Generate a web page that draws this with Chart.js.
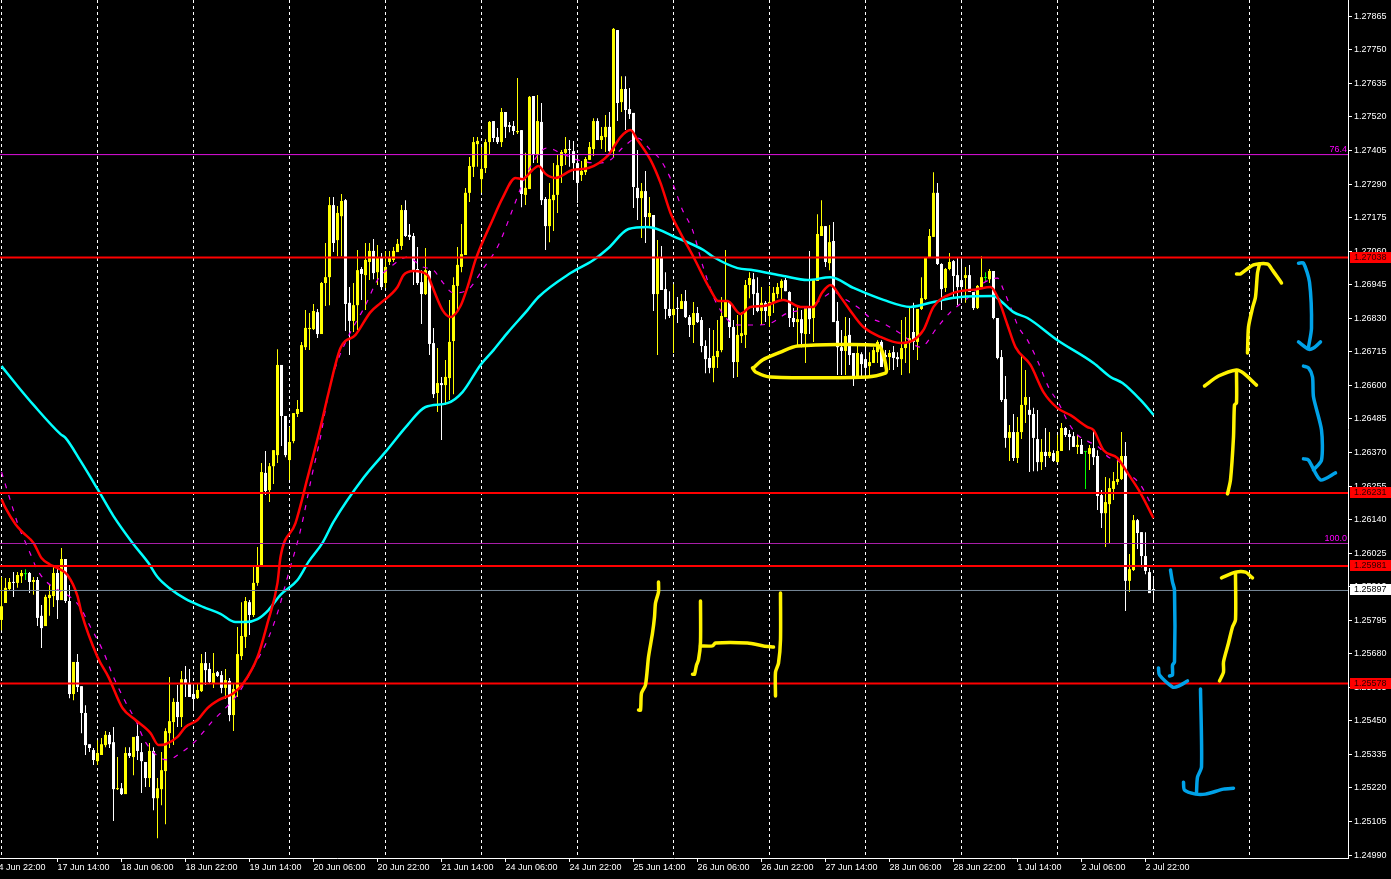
<!DOCTYPE html>
<html>
<head>
<meta charset="UTF-8">
<title>GBPUSD H1</title>
<script src="https://cdn.jsdelivr.net/npm/chart.js"></script>
<style>
    html, body { margin: 0; padding: 0; background: #000; overflow: hidden; }
    canvas { display: block; }
</style>
</head>
<body>
<canvas id="priceChart" width="1391" height="879" style="width:1391px;height:879px"></canvas>
<script>
// H1 candles, one entry per bar
const opens = [
1.25796,1.25854,1.25902,1.25926,1.25923,1.25946,1.25953,1.25957,1.25926,1.25933,
1.25810,1.25775,1.25871,1.25878,1.25957,1.25864,1.26005,1.25861,1.25542,1.25652,
1.25569,1.25477,1.25370,1.25350,1.25312,1.25333,1.25367,1.25402,1.25377,1.25216,
1.25219,1.25199,1.25340,1.25326,1.25398,1.25343,1.25309,1.25254,1.25347,1.25185,
1.25216,1.25278,1.25408,1.25446,1.25515,1.25463,1.25593,1.25580,1.25542,1.25528,
1.25552,1.25648,1.25628,1.25580,1.25617,1.25607,1.25563,1.25587,1.25470,1.25559,
1.25672,1.25738,1.25857,1.25813,1.25923,1.25984,1.26300,1.26241,1.26323,1.26361,
1.26670,1.26495,1.26344,1.26409,1.26502,1.26509,1.26731,1.26793,1.26793,1.26851,
1.26776,1.26951,1.26971,1.27218,1.27098,1.27180,1.27235,1.26883,1.26821,1.26875,
1.26999,1.26978,1.27023,1.27061,1.26988,1.27040,1.26951,1.27023,1.27030,1.27057,
1.27078,1.27201,1.27116,1.27112,1.26999,1.26954,1.26913,1.26992,1.26745,1.26574,
1.26608,1.26601,1.26625,1.26752,1.26941,1.27006,1.27047,1.27260,1.27349,1.27427,
1.27307,1.27345,1.27434,1.27506,1.27451,1.27434,1.27537,1.27492,1.27489,1.27468,
1.27475,1.27253,1.27273,1.27592,1.27390,1.27503,1.27239,1.27146,1.27235,1.27253,
1.27352,1.27397,1.27410,1.27403,1.27362,1.27321,1.27331,1.27373,1.27410,1.27506,
1.27441,1.27451,1.27486,1.27403,1.27818,1.27571,1.27616,1.27547,1.27534,1.27277,
1.27242,1.27266,1.27177,1.27184,1.26913,1.27040,1.26930,1.26862,1.26841,1.26865,
1.26862,1.26889,1.26834,1.26807,1.26848,1.26824,1.26735,1.26694,1.26660,1.26697,
1.26721,1.26834,1.26886,1.26800,1.26680,1.26769,1.26773,1.26944,1.26964,1.26917,
1.26855,1.26883,1.26838,1.26886,1.26913,1.26934,1.26961,1.26920,1.26831,1.26817,
1.26827,1.26776,1.26872,1.26831,1.26958,1.27112,1.27146,1.27019,1.27095,1.26821,
1.26731,1.26718,1.26773,1.26711,1.26629,1.26707,1.26690,1.26666,1.26677,1.26714,
1.26749,1.26704,1.26697,1.26714,1.26697,1.26690,1.26728,1.26745,1.26783,1.26749,
1.26862,1.26896,1.27037,1.27109,1.27260,1.27016,1.26934,1.26999,1.27026,1.26978,
1.26961,1.26968,1.26978,1.26920,1.26865,1.26937,1.26968,1.26964,1.26992,1.26831,
1.26697,1.26553,1.26420,1.26440,1.26351,1.26440,1.26533,1.26516,1.26502,1.26416,
1.26337,1.26372,1.26358,1.26368,1.26337,1.26375,1.26454,1.26433,1.26426,1.26389,
1.26396,1.26372,1.26365,1.26385,1.26358,1.26224,1.26162,1.26193,1.26245,1.26269,
1.26279,1.26358,1.25930,1.25967,1.26138,1.26097,1.26015,1.25960,1.25902];
const highs = [
1.25943,1.25940,1.25940,1.25960,1.25960,1.25967,1.25970,1.25960,1.25943,1.25943,
1.25847,1.25882,1.25916,1.25984,1.25984,1.26043,1.26005,1.25916,1.25652,1.25679,
1.25569,1.25504,1.25370,1.25357,1.25384,1.25391,1.25415,1.25412,1.25429,1.25326,
1.25237,1.25360,1.25360,1.25395,1.25446,1.25374,1.25309,1.25374,1.25360,1.25254,
1.25343,1.25425,1.25600,1.25528,1.25573,1.25621,1.25638,1.25628,1.25580,1.25580,
1.25679,1.25686,1.25648,1.25683,1.25621,1.25621,1.25628,1.25597,1.25580,1.25772,
1.25857,1.25875,1.25864,1.25984,1.26046,1.26334,1.26375,1.26334,1.26378,1.26724,
1.26670,1.26495,1.26457,1.26505,1.26550,1.26749,1.26858,1.26848,1.26879,1.26862,
1.26954,1.27088,1.27246,1.27246,1.27215,1.27256,1.27239,1.26937,1.26951,1.27064,
1.27006,1.27088,1.27088,1.27102,1.27081,1.27054,1.27061,1.27061,1.27074,1.27102,
1.27218,1.27235,1.27153,1.27122,1.27074,1.26995,1.27071,1.26995,1.26797,1.26728,
1.26629,1.26687,1.26893,1.26971,1.27074,1.27153,1.27277,1.27383,1.27451,1.27451,
1.27417,1.27444,1.27506,1.27506,1.27482,1.27551,1.27537,1.27503,1.27506,1.27654,
1.27475,1.27397,1.27592,1.27592,1.27595,1.27568,1.27246,1.27294,1.27362,1.27390,
1.27407,1.27451,1.27441,1.27438,1.27390,1.27369,1.27383,1.27434,1.27516,1.27516,
1.27486,1.27527,1.27537,1.27825,1.27818,1.27660,1.27660,1.27619,1.27534,1.27407,
1.27294,1.27335,1.27246,1.27184,1.27098,1.27078,1.26988,1.26923,1.26947,1.26903,
1.26913,1.26927,1.26841,1.26886,1.26869,1.26834,1.26755,1.26797,1.26790,1.26824,
1.26903,1.27064,1.26889,1.26824,1.26841,1.26851,1.26961,1.26988,1.26985,1.26971,
1.26937,1.26889,1.26941,1.26937,1.26951,1.26964,1.26968,1.26923,1.26865,1.26875,
1.26858,1.26872,1.27061,1.26961,1.27187,1.27235,1.27146,1.27150,1.27160,1.26886,
1.26790,1.26834,1.26831,1.26711,1.26735,1.26714,1.26745,1.26714,1.26731,1.26755,
1.26755,1.26721,1.26721,1.26735,1.26714,1.26824,1.26834,1.26865,1.26883,1.26862,
1.26971,1.27040,1.27136,1.27331,1.27294,1.27019,1.27002,1.27054,1.27030,1.27040,
1.27030,1.27006,1.27013,1.26920,1.26944,1.27043,1.26988,1.26999,1.26992,1.26831,
1.26721,1.26632,1.26464,1.26502,1.26492,1.26704,1.26653,1.26560,1.26523,1.26516,
1.26416,1.26454,1.26440,1.26378,1.26430,1.26471,1.26457,1.26447,1.26440,1.26430,
1.26416,1.26372,1.26396,1.26447,1.26378,1.26241,1.26286,1.26282,1.26303,1.26354,
1.26440,1.26406,1.26022,1.26156,1.26142,1.26097,1.26097,1.25974,1.25940];
const lows = [
1.25761,1.25854,1.25899,1.25875,1.25906,1.25923,1.25933,1.25888,1.25882,1.25775,
1.25700,1.25775,1.25810,1.25840,1.25799,1.25864,1.25854,1.25528,1.25521,1.25549,
1.25408,1.25333,1.25343,1.25299,1.25299,1.25333,1.25360,1.25357,1.25107,1.25213,
1.25196,1.25199,1.25323,1.25264,1.25316,1.25203,1.25223,1.25223,1.25144,1.25048,
1.25161,1.25096,1.25357,1.25367,1.25429,1.25429,1.25532,1.25532,1.25494,1.25525,
1.25549,1.25573,1.25580,1.25563,1.25600,1.25545,1.25525,1.25449,1.25415,1.25532,
1.25659,1.25700,1.25744,1.25806,1.25913,1.25984,1.26224,1.26200,1.26262,1.26334,
1.26392,1.26354,1.26276,1.26402,1.26492,1.26509,1.26721,1.26721,1.26790,1.26762,
1.26776,1.26872,1.26875,1.27057,1.27043,1.27043,1.26786,1.26704,1.26783,1.26790,
1.26893,1.26858,1.26961,1.26964,1.26944,1.26927,1.26934,1.27013,1.27023,1.27057,
1.27064,1.27109,1.27098,1.26944,1.26944,1.26810,1.26910,1.26704,1.26557,1.26509,
1.26413,1.26533,1.26550,1.26570,1.26858,1.26988,1.27047,1.27229,1.27314,1.27349,
1.27260,1.27328,1.27393,1.27434,1.27427,1.27417,1.27448,1.27468,1.27458,1.27462,
1.27211,1.27218,1.27273,1.27362,1.27362,1.27218,1.27064,1.27091,1.27129,1.27191,
1.27294,1.27355,1.27349,1.27304,1.27225,1.27301,1.27321,1.27373,1.27386,1.27441,
1.27410,1.27400,1.27397,1.27383,1.27506,1.27537,1.27475,1.27513,1.27208,1.27167,
1.27105,1.27088,1.27143,1.26855,1.26704,1.26927,1.26827,1.26831,1.26711,1.26814,
1.26862,1.26831,1.26766,1.26745,1.26814,1.26714,1.26642,1.26642,1.26611,1.26660,
1.26714,1.26834,1.26762,1.26625,1.26629,1.26745,1.26728,1.26899,1.26841,1.26851,
1.26807,1.26817,1.26800,1.26848,1.26899,1.26893,1.26923,1.26800,1.26800,1.26738,
1.26731,1.26677,1.26776,1.26749,1.26958,1.27112,1.27006,1.26995,1.26817,1.26636,
1.26636,1.26636,1.26670,1.26598,1.26629,1.26629,1.26629,1.26636,1.26677,1.26677,
1.26663,1.26670,1.26653,1.26653,1.26663,1.26636,1.26677,1.26642,1.26721,1.26687,
1.26858,1.26893,1.27037,1.27109,1.27013,1.26858,1.26920,1.26995,1.26903,1.26875,
1.26883,1.26883,1.26920,1.26858,1.26862,1.26937,1.26954,1.26951,1.26827,1.26690,
1.26543,1.26386,1.26341,1.26341,1.26334,1.26416,1.26471,1.26303,1.26306,1.26306,
1.26310,1.26320,1.26351,1.26337,1.26337,1.26375,1.26423,1.26378,1.26389,1.26365,
1.26365,1.26245,1.26310,1.26327,1.26173,1.26111,1.26046,1.26060,1.26207,1.26259,
1.26276,1.25827,1.25892,1.25964,1.26039,1.25977,1.25953,1.25888,1.25864];
const closes = [
1.25843,1.25906,1.25926,1.25923,1.25950,1.25957,1.25953,1.25926,1.25933,1.25803,
1.25768,1.25875,1.25882,1.25957,1.25864,1.26005,1.25861,1.25542,1.25652,1.25566,
1.25477,1.25367,1.25357,1.25316,1.25340,1.25370,1.25402,1.25370,1.25216,1.25219,
1.25199,1.25340,1.25330,1.25395,1.25347,1.25312,1.25254,1.25347,1.25185,1.25219,
1.25281,1.25415,1.25449,1.25515,1.25463,1.25593,1.25576,1.25532,1.25525,1.25556,
1.25648,1.25624,1.25583,1.25614,1.25604,1.25563,1.25590,1.25470,1.25559,1.25679,
1.25741,1.25861,1.25813,1.25923,1.25984,1.26303,1.26238,1.26323,1.26378,1.26670,
1.26495,1.26361,1.26406,1.26505,1.26519,1.26738,1.26797,1.26797,1.26855,1.26776,
1.26951,1.26971,1.27218,1.27088,1.27191,1.27232,1.26879,1.26821,1.26875,1.26995,
1.26982,1.27030,1.27061,1.26985,1.27040,1.26937,1.27006,1.27040,1.27061,1.27085,
1.27201,1.27112,1.27109,1.26995,1.26951,1.26913,1.26995,1.26742,1.26570,1.26608,
1.26601,1.26629,1.26749,1.26944,1.27013,1.27050,1.27260,1.27352,1.27434,1.27438,
1.27342,1.27434,1.27503,1.27448,1.27434,1.27537,1.27486,1.27486,1.27472,1.27472,
1.27256,1.27277,1.27589,1.27390,1.27506,1.27235,1.27146,1.27239,1.27253,1.27355,
1.27400,1.27410,1.27407,1.27362,1.27294,1.27335,1.27376,1.27417,1.27506,1.27441,
1.27455,1.27486,1.27403,1.27822,1.27568,1.27616,1.27544,1.27530,1.27280,1.27242,
1.27266,1.27177,1.27191,1.26913,1.27040,1.26927,1.26862,1.26838,1.26862,1.26862,
1.26889,1.26834,1.26807,1.26848,1.26817,1.26735,1.26690,1.26660,1.26701,1.26718,
1.26838,1.26889,1.26800,1.26680,1.26773,1.26779,1.26944,1.26968,1.26913,1.26855,
1.26883,1.26855,1.26886,1.26917,1.26937,1.26958,1.26923,1.26831,1.26817,1.26827,
1.26779,1.26872,1.26827,1.26961,1.27119,1.27146,1.27023,1.27091,1.26817,1.26731,
1.26718,1.26769,1.26704,1.26629,1.26711,1.26673,1.26660,1.26680,1.26721,1.26749,
1.26663,1.26697,1.26711,1.26694,1.26690,1.26728,1.26745,1.26762,1.26749,1.26862,
1.26899,1.27037,1.27112,1.27260,1.27016,1.26930,1.26999,1.27023,1.26975,1.26937,
1.26937,1.26978,1.26920,1.26865,1.26941,1.26971,1.26968,1.26992,1.26831,1.26694,
1.26550,1.26420,1.26440,1.26351,1.26440,1.26533,1.26560,1.26499,1.26420,1.26337,
1.26372,1.26358,1.26372,1.26341,1.26375,1.26454,1.26430,1.26423,1.26389,1.26396,
1.26365,1.26372,1.26385,1.26354,1.26221,1.26162,1.26200,1.26248,1.26272,1.26279,
1.26358,1.25930,1.25970,1.26138,1.26094,1.26015,1.25964,1.25888,1.25897];

// moving averages as [bar, price]
const redMA = [[0,1.26210],[1,1.26180],[3.5,1.26124],[5.25,1.26097],[8,1.26060],[10,1.26008],[12,1.25987],[14,1.25974],[16.5,1.25950],[19,1.25878],[20,1.25820],[24,1.25669],[26.75,1.25600],[30.25,1.25494],[33.5,1.25453],[37.25,1.25408],[39.25,1.25367],[41,1.25370],[44,1.25395],[46,1.25429],[49,1.25453],[51.5,1.25494],[54.25,1.25521],[58,1.25545],[60.5,1.25580],[64,1.25669],[66.5,1.25785],[69,1.25923],[69.75,1.26012],[73.5,1.26128],[76.5,1.26283],[79.75,1.26457],[81.75,1.26574],[84.75,1.26728],[88.5,1.26773],[92.25,1.26851],[94.75,1.26882],[99,1.26937],[100.5,1.26978],[103,1.26992],[106.5,1.26978],[107.75,1.26937],[110.25,1.26858],[112.25,1.26834],[114.75,1.26872],[116.5,1.26937],[118.5,1.27030],[122.75,1.27167],[125.25,1.27242],[128.5,1.27311],[130.25,1.27307],[132.75,1.27338],[134.25,1.27352],[136,1.27325],[138.5,1.27311],[142.75,1.27338],[146.75,1.27345],[151.75,1.27390],[154.75,1.27451],[157.25,1.27475],[159,1.27441],[162.25,1.27373],[164.75,1.27294],[167.25,1.27191],[169.75,1.27122],[173,1.27040],[177.25,1.26927],[179.25,1.26889],[181.5,1.26889],[184.75,1.26845],[187.25,1.26869],[190.5,1.26872],[195.5,1.26893],[199.75,1.26869],[203,1.26869],[205.25,1.26920],[207.25,1.26944],[209.75,1.26903],[213,1.26841],[215.5,1.26800],[219.75,1.26766],[224.75,1.26745],[228,1.26755],[230.5,1.26790],[233,1.26869],[238,1.26917],[244,1.26930],[247.25,1.26937],[249,1.26903],[251.5,1.26807],[253.5,1.26731],[257.25,1.26670],[260.5,1.26577],[264,1.26522],[267.25,1.26498],[271.5,1.26457],[273,1.26447],[275.5,1.26378],[279,1.26351],[281.5,1.26300],[284.75,1.26231],[288,1.26145]];
const cyanMA = [[0,1.26666],[4,1.26598],[8,1.26533],[14.75,1.26433],[16,1.26420],[19.75,1.26341],[24,1.26245],[28,1.26152],[32.75,1.26060],[36.75,1.25991],[39,1.25943],[42.25,1.25902],[46,1.25868],[50.5,1.25840],[54.75,1.25817],[58.5,1.25789],[61,1.25789],[64,1.25799],[66.75,1.25830],[69.75,1.25882],[74,1.25933],[76.75,1.25995],[80.25,1.26060],[83,1.26132],[90.5,1.26283],[96,1.26372],[101.5,1.26464],[106,1.26526],[111.5,1.26539],[115.25,1.26577],[119.75,1.26670],[123,1.26721],[126.5,1.26780],[131.5,1.26858],[134.25,1.26903],[142.25,1.26985],[148,1.27030],[151.75,1.27071],[156.75,1.27136],[161.5,1.27143],[169,1.27105],[175.5,1.27064],[178,1.27040],[184,1.27002],[188,1.26995],[195.5,1.26975],[201.5,1.26961],[207.25,1.26971],[213,1.26934],[220.5,1.26893],[227.25,1.26869],[233,1.26886],[239.75,1.26903],[248,1.26906],[249,1.26899],[253,1.26851],[256.5,1.26831],[264,1.26755],[273,1.26677],[277.25,1.26629],[280.25,1.26608],[284.75,1.26550],[288,1.26499]];
const magentaMA = [[0,1.26303],[1,1.26259],[2.25,1.26204],[4.25,1.26118],[6.5,1.26046],[9,1.25967],[11,1.25930],[19.25,1.25847],[22.25,1.25772],[25.5,1.25686],[28,1.25600],[31,1.25515],[33.5,1.25453],[36,1.25377],[41.5,1.25316],[44.75,1.25340],[48,1.25374],[53,1.25453],[55.5,1.25487],[59.25,1.25545],[63,1.25635],[66.5,1.25727],[69,1.25820],[71.5,1.25943],[74.75,1.26104],[77.75,1.26300],[79.75,1.26423],[81.75,1.26574],[83.5,1.26663],[86.5,1.26762],[91,1.26875],[94,1.26961],[97.25,1.27006],[101.5,1.27040],[105.25,1.27006],[108,1.26995],[110.25,1.26954],[113,1.26917],[116.5,1.26927],[120.5,1.27002],[124.25,1.27081],[128,1.27211],[131.5,1.27331],[136.5,1.27414],[139.75,1.27397],[144,1.27373],[149,1.27362],[152.25,1.27373],[155.5,1.27417],[159,1.27448],[162.25,1.27407],[164.75,1.27373],[167.75,1.27294],[170.25,1.27201],[172.75,1.27133],[175.5,1.27002],[179,1.26875],[184,1.26807],[187.75,1.26807],[191.5,1.26810],[196.5,1.26848],[199.75,1.26858],[204,1.26886],[208,1.26920],[210.5,1.26899],[214,1.26869],[217.25,1.26831],[220.25,1.26814],[225.25,1.26773],[229.75,1.26731],[234,1.26800],[237.25,1.26851],[241.5,1.26899],[245.5,1.26951],[249,1.26968],[250.5,1.26927],[252.25,1.26869],[254.25,1.26800],[256.5,1.26755],[259.25,1.26677],[261.75,1.26594],[264.25,1.26540],[266.75,1.26471],[269,1.26430],[271.5,1.26409],[274.25,1.26389],[276.75,1.26354],[279.25,1.26341],[281.75,1.26300],[284.75,1.26259],[287.75,1.26183]];

// horizontal levels
const redLevels = [1.27038, 1.26231, 1.25981, 1.25578];
const fibLevels = [1.27391, 1.26058];
const fibNames = ["76.4", "100.0"];
const bidPrice = 1.25897;

// axis labels
const priceTicks = [1.24990,1.25105,1.25220,1.25335,1.25450,1.25565,1.25680,1.25795,1.25910,1.26025,1.26140,1.26255,1.26370,1.26485,1.26600,1.26715,1.26830,1.26945,1.27060,1.27175,1.27290,1.27405,1.27520,1.27635,1.27750,1.27865];
const timeTicks = [-2,14,30,46,62,78,94,110,126,142,158,174,190,206,222,238,254,270,286];
const timeLabels = ["14 Jun 22:00","17 Jun 14:00","18 Jun 06:00","18 Jun 22:00","19 Jun 14:00","20 Jun 06:00","20 Jun 22:00","21 Jun 14:00","24 Jun 06:00","24 Jun 22:00","25 Jun 14:00","26 Jun 06:00","26 Jun 22:00","27 Jun 14:00","28 Jun 06:00","28 Jun 22:00","1 Jul 14:00","2 Jul 06:00","2 Jul 22:00"];
const dayBars = [0,24,48,72,96,120,144,168,192,216,240,264,288,312];

// hand drawn pen marks as [bar, price]
const yellowPen = [
 [[164.25,1.25926],[164.25,1.25892],[163.5,1.25854],[163.25,1.25806],[162.75,1.25751],[161.75,1.25669],[161,1.25573],[160,1.25545],[159.75,1.25487],[159.25,1.25487]],
 [[174.75,1.25861],[174.75,1.25720],[174.25,1.25659],[173.75,1.25641],[173.25,1.25610],[172.75,1.25610]],
 [[174.75,1.25707],[177.75,1.25707],[178.5,1.25717],[186.5,1.25717],[190.5,1.25707],[193,1.25703]],
 [[194.75,1.25888],[194.75,1.25727],[194.25,1.25648],[193.5,1.25617],[193.5,1.25535]],
 [[188,1.26660],[190.25,1.26687],[194.75,1.26714],[199,1.26735],[219,1.26738],[220.25,1.26714],[221.25,1.26653],[221,1.26642],[216.5,1.26629],[192.25,1.26629],[188.5,1.26646],[187.75,1.26660]],
 [[311.5,1.26711],[311.75,1.26800],[312.75,1.26865],[313.5,1.26903],[314,1.26985],[314.5,1.27016]],
 [[308.75,1.26982],[309.75,1.26982],[313,1.27013],[316.5,1.27016],[317.75,1.26995],[320,1.26951]],
 [[306.5,1.26228],[307.25,1.26276],[308,1.26423],[308.25,1.26533],[308.75,1.26540],[308.75,1.26646]],
 [[300.75,1.26598],[304.25,1.26632],[308.75,1.26653],[310.5,1.26642],[313.75,1.26601]],
 [[304.5,1.25587],[305.5,1.25617],[305.5,1.25652],[306.75,1.25717],[307.75,1.25772],[308.5,1.25796],[308.5,1.25957]],
 [[305,1.25940],[308.5,1.25960],[311,1.25960],[312.75,1.25940]]
];
const bluePen = [
 [[324.25,1.27019],[325.5,1.27019],[327,1.26954],[327.5,1.26797],[326.75,1.26731]],
 [[324.25,1.26749],[326.75,1.26724],[328,1.26728],[329.75,1.26749]],
 [[325.5,1.26666],[326.75,1.26660],[327.75,1.26629],[328,1.26560],[330,1.26447],[330,1.26344],[328,1.26310]],
 [[325.5,1.26348],[326.75,1.26344],[329.75,1.26276],[333.5,1.26300]],
 [[292.25,1.25967],[292.75,1.25926],[293.25,1.25899],[293.25,1.25652],[292.75,1.25641],[292.75,1.25607],[292,1.25604]],
 [[289.25,1.25631],[289.5,1.25607],[292.75,1.25566],[294.25,1.25569],[296.5,1.25587]],
 [[299.75,1.25559],[300,1.25292],[299,1.25257],[298.75,1.25203]],
 [[295.5,1.25240],[295.75,1.25213],[298.5,1.25199],[301,1.25199],[305.5,1.25216],[308,1.25219]]
];

const xMin = -0.375, xMax = 336.625;
const labelFont = '9px "Liberation Sans", Arial, sans-serif';

const candleColor = opens.map((o, i) => closes[i] > o ? '#ffff00' : closes[i] < o ? '#ffffff' : '#00ff00');
const toPoints = arr => arr.map(p => ({ x: p[0], y: p[1] }));

function lineSet(points, color, width, order, extra) {
    return Object.assign({
        type: 'line', data: points, borderColor: color, borderWidth: width,
        pointRadius: 0, tension: 0, fill: false, order: order
    }, extra || {});
}

const smooth = { cubicInterpolationMode: 'monotone' };
const pen = { tension: 0.25, borderCapStyle: 'round', borderJoinStyle: 'round' };

const datasets = [
    // wicks and bodies are two floating bar sets on the same bars
    { type: 'bar', data: opens.map((o, i) => ({ x: i, y: [lows[i], highs[i]] })), backgroundColor: candleColor,
      barThickness: 1, grouped: false, inflateAmount: 0, order: 8 },
    { type: 'bar', data: opens.map((o, i) => ({ x: i, y: [o, closes[i]] })), backgroundColor: candleColor,
      barThickness: 3, minBarLength: 1, grouped: false, inflateAmount: 0, order: 7 },
    lineSet(toPoints(magentaMA), '#f000f0', 1.2, 6, Object.assign({ borderDash: [5, 7] }, smooth)),
    lineSet(toPoints(cyanMA), '#00ffff', 2.5, 5, smooth),
    lineSet(toPoints(redMA), '#ff0000', 2.5, 4, smooth)
];
fibLevels.forEach((p, i) => datasets.push(lineSet([{ x: xMin, y: p }, { x: xMax, y: p }], i ? '#a81ea8' : '#e010e0', 1, 3)));
datasets.push(lineSet([{ x: xMin, y: bidPrice }, { x: xMax, y: bidPrice }], '#778899', 1, 3));
redLevels.forEach(p => datasets.push(lineSet([{ x: xMin, y: p }, { x: xMax, y: p }], '#ff0000', 2, 2)));
yellowPen.forEach(s => datasets.push(lineSet(toPoints(s), '#fff200', 3.5, 1, pen)));
bluePen.forEach(s => datasets.push(lineSet(toPoints(s), '#00a2e8', 3.5, 0, pen)));

// price tags on the axis and the fibo names above their lines
const tagsPlugin = {
    id: 'priceTags',
    afterDraw(chart) {
        const ctx = chart.ctx, y = chart.scales.y, area = chart.chartArea;
        ctx.save();
        ctx.font = labelFont;
        ctx.textBaseline = 'middle';
        ctx.textAlign = 'left';
        const tag = (price, bg, fg) => {
            const py = Math.round(y.getPixelForValue(price));
            ctx.fillStyle = bg;
            ctx.fillRect(area.right + 2, py - 6, 41, 11);
            ctx.fillStyle = fg;
            ctx.fillText(price.toFixed(5), area.right + 6, py);
        };
        redLevels.forEach(p => tag(p, '#ff0000', '#300000'));
        tag(bidPrice, '#ffffff', '#000000');
        ctx.textAlign = 'right';
        ctx.fillStyle = '#ff00ff';
        fibLevels.forEach((p, i) => ctx.fillText(fibNames[i], area.right - 1, y.getPixelForValue(p) - 5));
        ctx.restore();
    }
};

new Chart(document.getElementById('priceChart'), {
    type: 'bar',
    data: { datasets: datasets },
    plugins: [tagsPlugin],
    options: {
        responsive: false,
        animation: false,
        layout: { padding: 0 },
        plugins: { legend: { display: false }, tooltip: { enabled: false }, title: { display: false } },
        scales: {
            x: {
                type: 'linear', min: xMin, max: xMax, offset: false,
                grid: { drawOnChartArea: false, drawTicks: true, tickLength: 4, tickColor: '#ffffff', offset: false },
                border: { color: '#ffffff', width: 1 },
                ticks: {
                    autoSkip: false, maxRotation: 0, minRotation: 0, align: 'start', padding: 0,
                    color: '#ffffff', font: { family: '"Liberation Sans", Arial, sans-serif', size: 9 },
                    callback: v => timeLabels[timeTicks.indexOf(v)]
                },
                afterBuildTicks(scale) { scale.ticks = timeTicks.map(v => ({ value: v })); },
                afterFit(scale) { scale.height = 21; scale.paddingLeft = 0; scale.paddingRight = 0; }
            },
            days: {
                type: 'linear', axis: 'x', position: 'bottom', min: xMin, max: xMax, offset: false,
                grid: { drawTicks: false, color: '#ffffff', lineWidth: 1, offset: false },
                border: { display: false, dash: [3, 3] },
                ticks: { display: false },
                afterBuildTicks(scale) { scale.ticks = dayBars.map(v => ({ value: v })); },
                afterFit(scale) { scale.height = 0; scale.paddingLeft = 0; scale.paddingRight = 0; }
            },
            y: {
                type: 'linear', position: 'right', min: 1.24980, max: 1.27921, beginAtZero: false,
                grid: { drawOnChartArea: false, drawTicks: true, tickLength: 4, tickColor: '#ffffff' },
                border: { color: '#ffffff', width: 1 },
                ticks: {
                    color: '#ffffff', padding: 2, autoSkip: false,
                    font: { family: '"Liberation Sans", Arial, sans-serif', size: 9 },
                    callback: v => v.toFixed(5)
                },
                afterBuildTicks(scale) { scale.ticks = priceTicks.map(v => ({ value: v })); },
                afterFit(scale) { scale.width = 43; scale.paddingTop = 0; scale.paddingBottom = 0; }
            }
        }
    }
});
</script>
</body>
</html>
